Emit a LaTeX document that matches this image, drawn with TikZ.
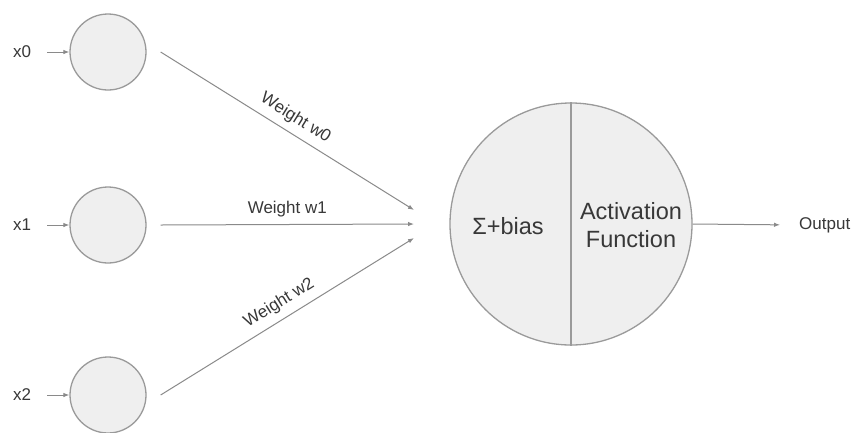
\documentclass[tikz,border=0pt]{standalone}
\usepackage{fontspec}
\setmainfont{Liberation Sans}
\usetikzlibrary{arrows.meta}
\definecolor{edgegray}{HTML}{9A9A9A}
\definecolor{fillgray}{HTML}{EFEFEF}
\definecolor{linegray}{HTML}{8A8A8A}
\definecolor{textgray}{HTML}{383838}
\begin{document}
\begin{tikzpicture}[x=1pt,y=-1pt,
  neuron/.style={circle,draw=edgegray,fill=fillgray,line width=1.3pt,minimum size=76pt,inner sep=0pt},
  bigcell/.style={circle,draw=edgegray,fill=fillgray,line width=1.3pt,minimum size=242pt,inner sep=0pt},
  lbl/.style={text=textgray,font=\fontsize{17}{20}\selectfont,inner sep=2pt},
  wlbl/.style={text=textgray,font=\fontsize{17}{20}\selectfont,sloped,above=6pt,pos=0.5,inner sep=1pt},
  big/.style={text=textgray,font=\fontsize{23.5}{28}\selectfont,align=center},
  arr/.style={draw=linegray,line width=1pt,-{Latex[length=6pt,width=4.5pt]}}
]
\useasboundingbox (0,0) rectangle (853,432);
\fill[white] (0,0) rectangle (853,432);

% input neurons
\node[neuron] (n0) at (108,52) {};
\node[neuron] (n1) at (108,225) {};
\node[neuron] (n2) at (108,395) {};

% input labels
\node[lbl] (x0) at (22,52) {x0};
\node[lbl] (x1) at (22,225) {x1};
\node[lbl] (x2) at (22,395) {x2};
\draw[arr,shorten <=14pt] (x0.east) -- (n0.west);
\draw[arr,shorten <=14pt] (x1.east) -- (n1.west);
\draw[arr,shorten <=14pt] (x2.east) -- (n2.west);

% summation and activation unit
\node[bigcell] (sum) at (571,224) {};
\draw[edgegray,line width=1.3pt] (sum.north) -- (sum.south);
\node[big] (sigma) at (508,226) {Σ+bias};
\node[big] (act) at (631,225) {Activation\\Function};

% weighted connections
\coordinate (a0) at (414,210);
\coordinate (a1) at (414,224);
\coordinate (a2) at (414,238);
\draw[arr] ([xshift=14pt]n0.east) -- node[wlbl] {Weight w0} (a0);
\draw[arr] ([xshift=14pt]n1.east) -- node[wlbl] {Weight w1} (a1);
\draw[arr] ([xshift=14pt]n2.east) -- node[wlbl] {Weight w2} (a2);

% output
\node[lbl,anchor=west] (out) at (797,225) {Output};
\draw[arr,shorten >=17pt] (sum.east) -- (out.west);
\end{tikzpicture}
\end{document}
